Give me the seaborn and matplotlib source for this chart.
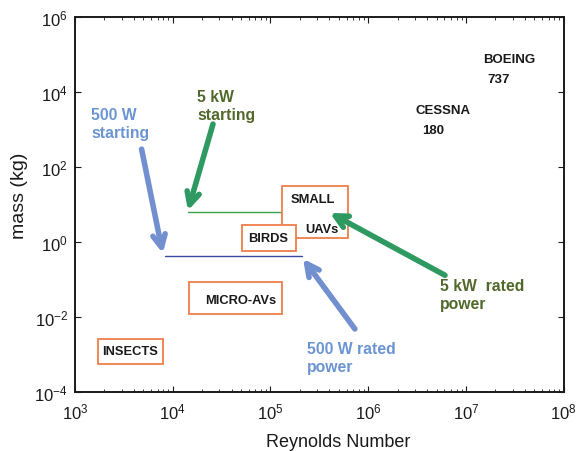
import numpy as np
import pandas as pd
import matplotlib
matplotlib.use("Agg")
import matplotlib.pyplot as plt
from matplotlib.patches import Rectangle
from matplotlib.ticker import LogLocator, NullFormatter, FixedLocator
import seaborn as sns

# ---- data ----
# power-limit lines (Reynolds number, mass kg)
line_5kw_re = [1.43e4, 3.4e5]
line_5kw_mass = [6.3, 6.3]
line_500w_re = [8.3e3, 2.1e5]
line_500w_mass = [0.43, 0.43]

# arrows: (tail_re, tail_mass, head_re, head_mass)
arrow_500w_start = (4.8e3, 300.0, 7.9e3, 0.50)
arrow_500w_rated = (7.3e5, 4.8e-3, 2.15e5, 0.36)
arrow_5kw_start = (2.58e4, 1400.0, 1.43e4, 6.9)
arrow_5kw_rated = (6.1e6, 0.13, 4.05e5, 6.0)

# category boxes: label texts and extents (re_min, re_max, m_min, m_max)
box_names = ["SMALL UAVs", "BIRDS", "MICRO-AVs", "INSECTS"]
box_re_min = [1.31e5, 5.1e4, 1.47e4, 1.72e3]
box_re_max = [6.18e5, 1.82e5, 1.31e5, 7.9e3]
box_m_min = [1.28, 10**-0.24, 10**-1.92, 10**-3.253]
box_m_max = [31.0, 10**0.453, 10**-1.067, 10**-2.587]

x_ticks = [1e3, 1e4, 1e5, 1e6, 1e7, 1e8]
x_tick_labels = ["$10^{3}$", "$10^{4}$", "$10^{5}$", "$10^{6}$", "$10^{7}$", "$10^{8}$"]
y_ticks = [1e-4, 1e-2, 1e0, 1e2, 1e4, 1e6]
y_tick_labels = ["$10^{-4}$", "$10^{-2}$", "$10^{0}$", "$10^{2}$", "$10^{4}$", "$10^{6}$"]

# ---- style ----
sns.set_style("ticks")
plt.rcParams["font.family"] = ["Liberation Sans", "DejaVu Sans"]
plt.rcParams["mathtext.fontset"] = "custom"
plt.rcParams["mathtext.rm"] = "Liberation Sans"
plt.rcParams["mathtext.it"] = "Liberation Sans"

BLUE_ARROW = "#7290d0"
BLUE_TEXT = "#6a95d2"
GREEN_ARROW = "#2e9a62"
OLIVE_TEXT = "#50692a"
ORANGE = "#f07e4a"
BLUE_LINE = "#3a48a6"
GREEN_LINE = "#3aa04e"
DARK = "#1a1a1a"

fig = plt.figure(figsize=(5.77, 4.52), dpi=100)
ax = fig.add_axes([0.130, 0.1305, 0.847, 0.8295])

df5 = pd.DataFrame({"re": line_5kw_re, "mass": line_5kw_mass})
df500 = pd.DataFrame({"re": line_500w_re, "mass": line_500w_mass})
sns.lineplot(data=df5, x="re", y="mass", ax=ax, color=GREEN_LINE, linewidth=1.0)
sns.lineplot(data=df500, x="re", y="mass", ax=ax, color=BLUE_LINE, linewidth=1.0)

ax.set_xscale("log")
ax.set_yscale("log")
ax.set_xlim(1e3, 1e8)
ax.set_ylim(1e-4, 1e6)

# boxes
box_texts = {
    "SMALL UAVs": [("SMALL", 2.72e5, 10**1.147), ("UAVs", 3.36e5, 10**0.347)],
    "BIRDS": [("BIRDS", 9.4e4, 10**0.107)],
    "MICRO-AVs": [("MICRO-AVs", 4.9e4, 10**-1.547)],
    "INSECTS": [("INSECTS", 3.65e3, 10**-2.907)],
}
for i, name in enumerate(box_names):
    r = Rectangle((box_re_min[i], box_m_min[i]), box_re_max[i] - box_re_min[i],
                  box_m_max[i] - box_m_min[i], facecolor="white", edgecolor=ORANGE,
                  linewidth=1.3, zorder=3 + i)
    ax.add_patch(r)
    for t, x, y in box_texts[name]:
        ax.text(x, y, t, ha="center", va="center", fontsize=9.3, fontweight="bold",
                color=DARK, zorder=3 + i)

# arrows
def draw_arrow(a, color):
    ax.annotate("", xy=(a[2], a[3]), xytext=(a[0], a[1]),
                arrowprops=dict(arrowstyle="->,head_length=0.9,head_width=0.45",
                                color=color, lw=4, shrinkA=0, shrinkB=0),
                zorder=10)

draw_arrow(arrow_500w_start, BLUE_ARROW)
draw_arrow(arrow_500w_rated, BLUE_ARROW)
draw_arrow(arrow_5kw_start, GREEN_ARROW)
draw_arrow(arrow_5kw_rated, GREEN_ARROW)

# annotation texts
ann_fs = 11.3
ax.text(1.46e3, 10**3.17, "500 W\nstarting", ha="left", va="center", fontsize=ann_fs,
        fontweight="bold", color=BLUE_TEXT, linespacing=1.25)
ax.text(1.77e4, 10**3.63, "5 kW\nstarting", ha="left", va="center", fontsize=ann_fs,
        fontweight="bold", color=OLIVE_TEXT, linespacing=1.25)
ax.text(5.4e6, 10**-1.39, "5 kW  rated\npower", ha="left", va="center", fontsize=ann_fs,
        fontweight="bold", color=OLIVE_TEXT, linespacing=1.25)
ax.text(2.35e5, 10**-3.07, "500 W rated\npower", ha="left", va="center", fontsize=ann_fs,
        fontweight="bold", color=BLUE_TEXT, linespacing=1.25)

lbl_fs = 9.5
ax.text(1.48e7, 10**4.88, "BOEING", ha="left", va="center", fontsize=lbl_fs,
        fontweight="bold", color=DARK)
ax.text(1.66e7, 10**4.35, "737", ha="left", va="center", fontsize=lbl_fs,
        fontweight="bold", color=DARK)
ax.text(3.07e6, 10**3.52, "CESSNA", ha="left", va="center", fontsize=lbl_fs,
        fontweight="bold", color=DARK)
ax.text(3.6e6, 10**2.99, "180", ha="left", va="center", fontsize=lbl_fs,
        fontweight="bold", color=DARK)

# ticks
ax.xaxis.set_major_locator(FixedLocator(x_ticks))
ax.set_xticklabels(x_tick_labels)
ax.xaxis.set_minor_locator(LogLocator(base=10, subs=np.arange(2, 10), numticks=20))
ax.xaxis.set_minor_formatter(NullFormatter())
ax.yaxis.set_major_locator(FixedLocator(y_ticks))
ax.set_yticklabels(y_tick_labels)
ax.yaxis.set_minor_locator(FixedLocator([]))
ax.tick_params(which="both", direction="in", top=True, right=True, labelsize=12,
               colors=DARK)
ax.tick_params(which="major", length=4, width=0.8)
ax.tick_params(which="minor", length=2.5, width=0.6)
ax.tick_params(axis="x", which="major", pad=7)
ax.tick_params(axis="y", which="major", pad=5)
for s in ax.spines.values():
    s.set_linewidth(1.4)
    s.set_color(DARK)
    s.set_visible(True)

ax.set_xlabel("Reynolds Number", fontsize=13, color=DARK)
ax.set_ylabel("mass (kg)", fontsize=14, color=DARK)
ax.xaxis.label.set_va("center")
ax.yaxis.label.set_va("center")
ax.xaxis.set_label_coords(0.538, -0.131)
ax.yaxis.set_label_coords(-0.1135, 0.525)

fig.savefig("out.png", dpi=100)
